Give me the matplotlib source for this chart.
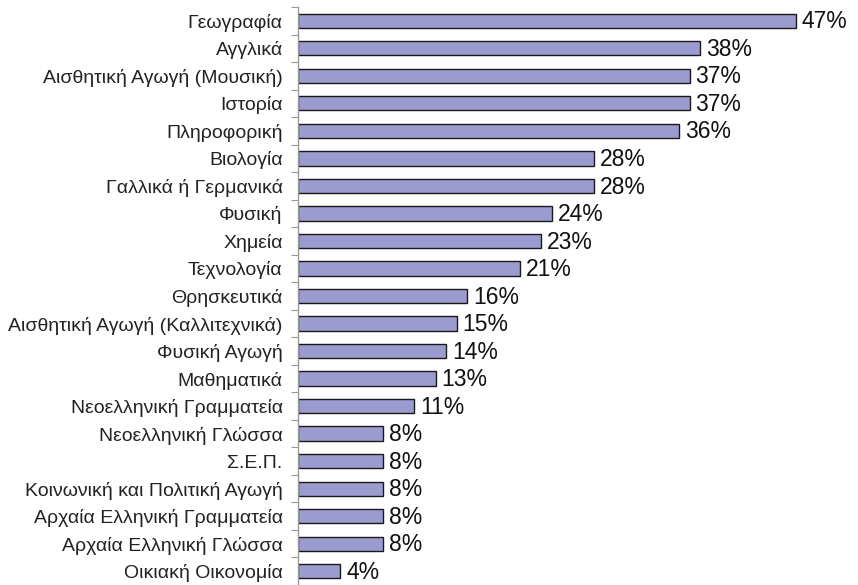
import matplotlib
matplotlib.use("Agg")
import matplotlib.pyplot as plt
import numpy as np

plt.rcParams['font.family'] = ['Liberation Sans', 'DejaVu Sans']

subjects = [
    "Γεωγραφία",
    "Αγγλικά",
    "Αισθητική Αγωγή (Μουσική)",
    "Ιστορία",
    "Πληροφορική",
    "Βιολογία",
    "Γαλλικά ή Γερμανικά",
    "Φυσική",
    "Χημεία",
    "Τεχνολογία",
    "Θρησκευτικά",
    "Αισθητική Αγωγή (Καλλιτεχνικά)",
    "Φυσική Αγωγή",
    "Μαθηματικά",
    "Νεοελληνική Γραμματεία",
    "Νεοελληνική Γλώσσα",
    "Σ.Ε.Π.",
    "Κοινωνική και Πολιτική Αγωγή",
    "Αρχαία Ελληνική Γραμματεία",
    "Αρχαία Ελληνική Γλώσσα",
    "Οικιακή Οικονομία",
]
percent = [47, 38, 37, 37, 36, 28, 28, 24, 23, 21, 16, 15, 14, 13, 11, 8, 8, 8, 8, 8, 4]

fig = plt.figure(figsize=(8.58, 5.85), dpi=100)
ax = fig.add_axes([298 / 858, 0.0, 1 - 298 / 858, 1 - 7 / 585])

y = np.arange(len(subjects))
ax.barh(y, percent, height=0.52, color="#9b9bd0", edgecolor="#1a1a1a", linewidth=1.0)

for yi, v in zip(y, percent):
    ax.text(v + 0.55, yi + 0.04, f"{v}%", va="center", ha="left", fontsize=16.5, color="#111111")

ax.set_ylim(len(subjects) - 0.5, -0.5)
ax.set_xlim(0, 52.9)

ax.set_yticks(y)
ax.set_yticklabels(subjects, fontsize=14, color="#222222")
ax.tick_params(axis="y", which="major", length=0, pad=11)
ax.set_yticks(np.arange(-0.5, len(subjects), 1.0), minor=True)
ax.tick_params(axis="y", which="minor", length=5, width=0.8, color="#999999")

ax.set_xticks([])
for side in ("top", "right", "bottom"):
    ax.spines[side].set_visible(False)
ax.spines["left"].set_color("#999999")
ax.spines["left"].set_linewidth(1.0)

fig.savefig("out.png", dpi=100)
